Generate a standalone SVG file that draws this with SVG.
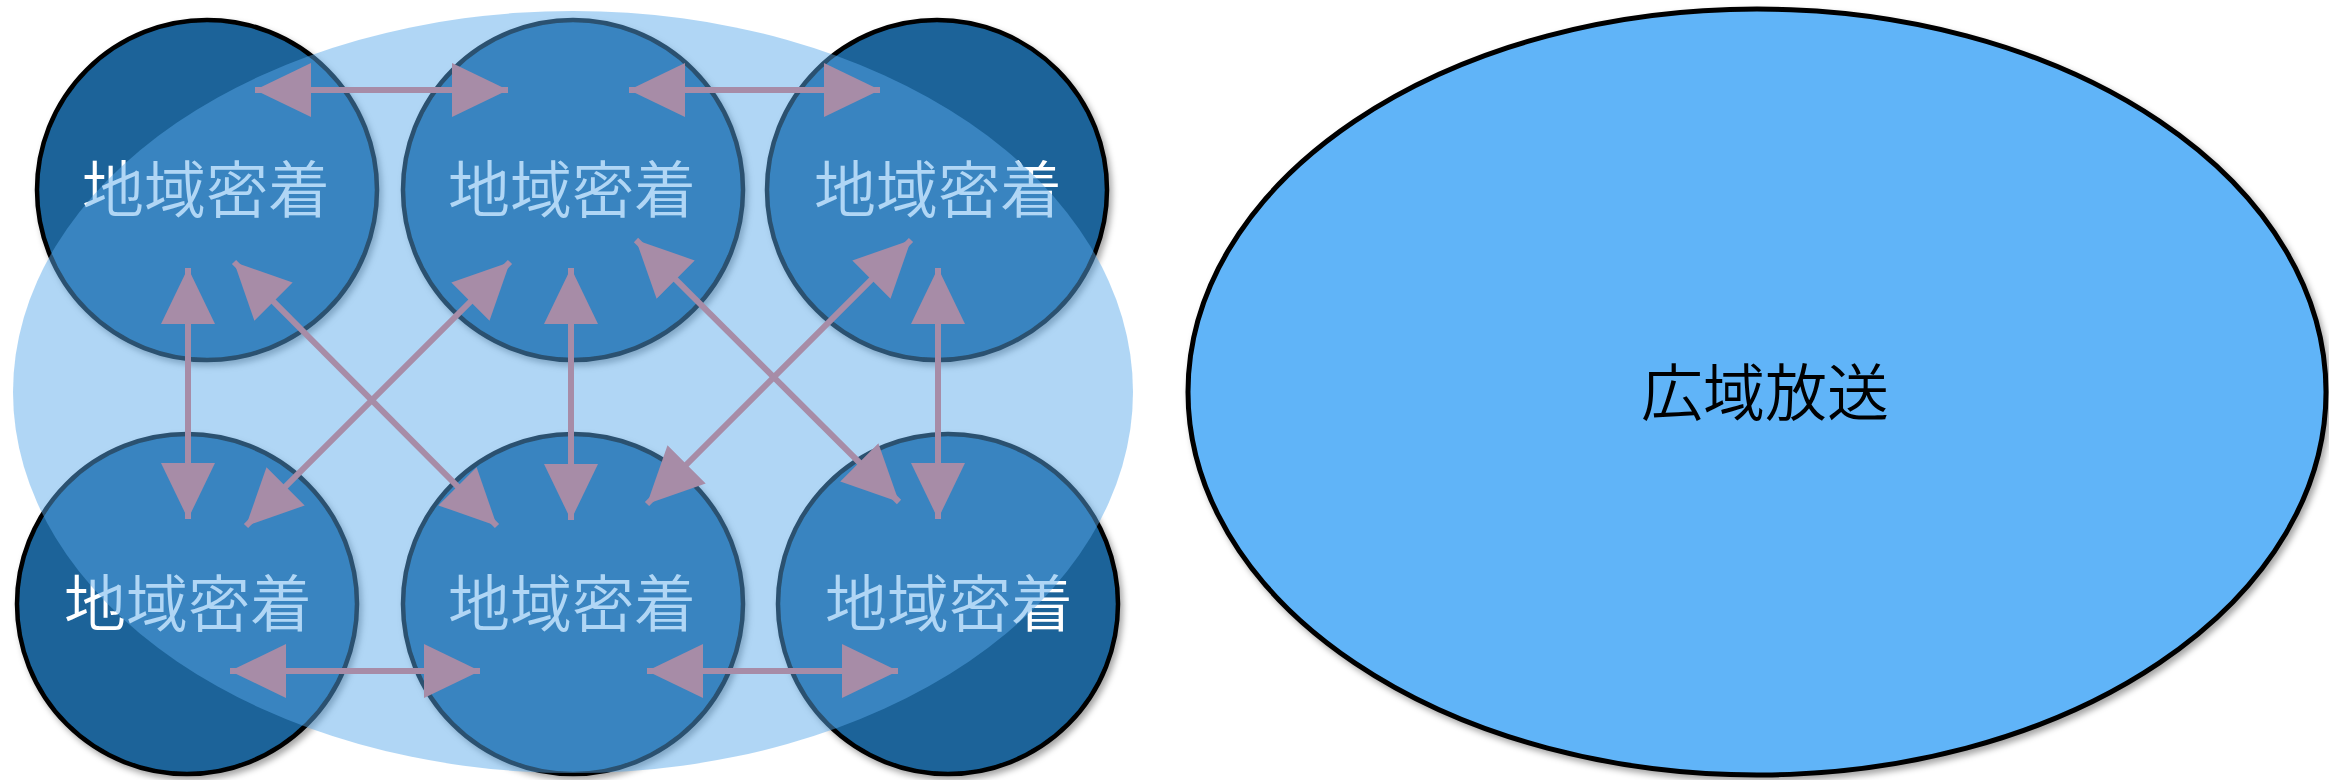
<svg xmlns="http://www.w3.org/2000/svg" width="2329" height="780" viewBox="0 0 2329 780">
<style>
.local{fill:#1A6399;stroke:#000;stroke-width:4.5;filter:url(#sh)}
.lt{font-family:"Noto Sans CJK JP","Noto Sans CJK SC",sans-serif;font-size:62px;font-weight:350;fill:#fff;text-anchor:middle;dominant-baseline:central}
.wide{fill:#61B4F8;stroke:#000;stroke-width:5;filter:url(#sh)}
.wt{font-family:"Noto Sans CJK JP","Noto Sans CJK SC",sans-serif;font-size:62px;font-weight:350;fill:#000;text-anchor:middle;dominant-baseline:central}
.conn{stroke:#A78CA7;stroke-width:6;fill:none;marker-start:url(#ah);marker-end:url(#ah)}
</style>
<defs>
<filter id="sh" x="-10%" y="-10%" width="120%" height="120%">
<feDropShadow dx="3" dy="4" stdDeviation="3" flood-color="#000" flood-opacity="0.35"/>
</filter>
<marker id="ah" viewBox="0 0 56 54" refX="56" refY="27" markerWidth="56" markerHeight="54" markerUnits="userSpaceOnUse" orient="auto-start-reverse">
<path d="M0,0 L56,27 L0,54 Z" fill="#A78CA7"/>
</marker>
</defs>
<rect width="2329" height="780" fill="#fff"/>
<g id="node-tl"><circle class="local" cx="207" cy="190" r="170"/><text class="lt" x="206" y="186">地域密着</text></g>
<g id="node-tm"><circle class="local" cx="573" cy="190" r="170"/><text class="lt" x="572" y="186">地域密着</text></g>
<g id="node-tr"><circle class="local" cx="937" cy="190" r="170"/><text class="lt" x="938" y="186">地域密着</text></g>
<g id="node-bl"><circle class="local" cx="187" cy="604" r="170"/><text class="lt" x="188" y="600">地域密着</text></g>
<g id="node-bm"><circle class="local" cx="573" cy="604" r="170"/><text class="lt" x="572" y="600">地域密着</text></g>
<g id="node-br"><circle class="local" cx="948" cy="604" r="170"/><text class="lt" x="949" y="600">地域密着</text></g>
<g id="region"><ellipse cx="573" cy="392" rx="560" ry="381" fill="#5AAAEA" fill-opacity="0.48"/></g>
<g id="connectors">
<line class="conn" x1="255" y1="90" x2="508" y2="90"/>
<line class="conn" x1="629" y1="90" x2="880" y2="90"/>
<line class="conn" x1="230" y1="671" x2="480" y2="671"/>
<line class="conn" x1="647" y1="671" x2="898" y2="671"/>
<line class="conn" x1="188" y1="268" x2="188" y2="519"/>
<line class="conn" x1="571" y1="268" x2="571" y2="520"/>
<line class="conn" x1="938" y1="268" x2="938" y2="519"/>
<line class="conn" x1="234" y1="262" x2="497" y2="526"/>
<line class="conn" x1="510" y1="262" x2="246" y2="526"/>
<line class="conn" x1="636" y1="240" x2="899" y2="502"/>
<line class="conn" x1="911" y1="240" x2="647" y2="504"/>
</g>
<g id="node-wide"><ellipse class="wide" cx="1757" cy="392" rx="569" ry="383"/><text class="wt" x="1765" y="389">広域放送</text></g>
</svg>
